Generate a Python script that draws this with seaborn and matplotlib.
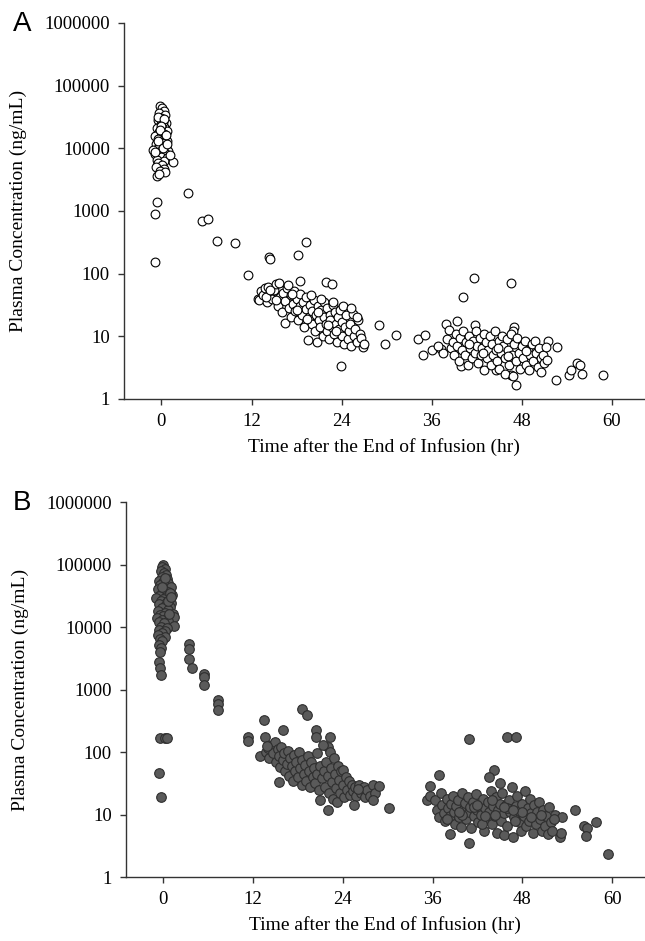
import numpy as np
import pandas as pd
import matplotlib
matplotlib.use("Agg")
import matplotlib.pyplot as plt
import seaborn as sns

# Panel A (open circles)
a_peak_t = [-0.2, 0.1, 0.3, -0.3, 0.5, 0.0, -0.5, 0.2, 0.6, -0.1, 0.4, -0.6, 0.1, 0.7, -0.3, 0.3,
            -0.8, 0.0, 0.5, -0.4, 0.2, 0.8, -0.2, 0.4, -0.7, 0.1, 0.6, -0.5, 0.3, -1.1, 0.0, 0.9,
            -0.3, 0.5, -0.8, 0.2, -0.1, 0.7, -0.6, 0.4, 1.5, -0.4, 0.1, -0.7, 0.3, -0.2, 0.5, -0.55,
            -0.3, 0.2, -0.4, 0.3, 0.0, -0.2, 0.6, -0.5, 0.2, 0.8, -0.9, 1.1]
a_peak_c = [47000, 44000, 40000, 36000, 34000, 31000, 28000, 27000, 25000, 24000, 22000, 21000, 20000, 19000, 18000, 17000,
            16000, 15500, 15000, 14000, 13500, 13000, 12500, 12000, 11500, 11000, 10500, 10000, 9800, 9500, 9200, 9000,
            8600, 8300, 8000, 7600, 7200, 7000, 6600, 6300, 6100, 5800, 5400, 5000, 4600, 4300, 4200, 3600,
            3900, 26000, 32000, 29000, 23000, 19500, 16500, 13000, 10000, 11500, 8800, 7800]

a_dist_t = [-0.55, -0.8, -0.8, 3.5, 5.4, 6.2, 7.4, 9.8, 11.5, 14.3, 14.5, 18.2, 19.3, 18.5, 21.9, 22.7]
a_dist_c = [1400, 880, 155, 1950, 700, 740, 330, 303, 95, 186, 170, 198, 323, 77, 73, 68]

a_mid_t = [12.8, 13.0, 13.2, 13.5, 13.8, 14.0, 14.2, 14.5, 14.7, 15.0, 15.2, 15.5, 15.6, 15.8, 16.0, 16.2,
           16.4, 16.5, 16.7, 17.0, 17.2, 17.3, 17.5, 17.7, 17.8, 18.0, 18.2, 18.4, 18.5, 18.7, 18.9, 19.0,
           19.2, 19.3, 19.5, 19.6, 19.8, 20.0, 20.1, 20.3, 20.5, 20.6, 20.7, 20.8, 21.0, 21.1, 21.3, 21.5,
           21.6, 21.7, 21.9, 22.0, 22.1, 22.3, 22.4, 22.5, 22.7, 22.8, 23.0, 23.1, 23.2, 23.4, 23.5, 23.6,
           23.8, 23.9, 24.0, 24.1, 24.3, 24.4, 24.6, 24.8, 25.0, 25.1, 25.3, 25.5, 25.6, 25.8, 26.0, 26.2,
           26.4, 26.6, 26.9, 27.0, 13.9, 14.4, 15.3, 16.8, 17.4, 19.9, 21.2, 22.9, 24.2, 25.2, 26.0,
           18.1, 19.4, 20.9, 22.2, 23.3]
a_mid_c = [40, 38, 52, 45, 58, 35, 62, 48, 40, 55, 68, 30, 70, 42, 24, 50,
           16.5, 36, 58, 28, 45, 20, 33, 52, 25, 40, 18, 30, 48, 22, 35, 14,
           27, 42, 8.7, 20, 32, 16, 25, 38, 12, 22, 8.2, 30, 18, 14, 26, 10,
           35, 20, 16, 12, 28, 9, 22, 18, 14, 32, 11, 24, 16, 8, 20, 13,
           26, 3.4, 10, 17, 7.5, 14, 22, 9, 12, 16, 7, 23, 10, 13, 8, 18,
           11, 9.5, 6.8, 7.5, 42, 55, 38, 65, 48, 45, 40, 35, 30, 28, 20,
           26, 19, 24, 15, 12]

a_late_t = [29.0, 29.8, 31.2, 34.2, 34.8, 35.1, 36.0, 37.2, 37.9, 39.3, 40.1, 41.6, 46.5, 41.8, 46.9, 46.8,
            47.2, 52.5, 51.5, 52.7, 54.3, 54.6, 55.3, 55.7, 56.0, 58.8, 46.5, 44.6, 39.9, 37.5, 36.8,
            38.0, 38.3, 38.5, 38.8, 39.0, 39.2, 39.4, 39.6, 39.8, 40.0, 40.2, 40.4, 40.6, 40.8, 41.0, 41.1,
            41.3, 41.5, 41.7, 41.9, 42.0, 42.2, 42.4, 42.5, 42.7, 42.9, 43.0, 43.2, 43.4, 43.5, 43.7, 43.9,
            44.0, 44.2, 44.4, 44.5, 44.7, 44.9, 45.0, 45.2, 45.3, 45.5, 45.7, 45.8, 46.0, 46.2, 46.3, 46.5,
            46.7, 46.8, 47.0, 47.2, 47.4, 47.6, 47.8, 48.0, 48.2, 48.4, 48.6, 48.8, 49.0, 49.1, 49.3, 49.5,
            49.7, 49.9, 50.1, 50.3, 50.5, 50.6, 50.8, 51.0, 51.2, 51.4, 40.9, 42.8, 44.8, 46.1, 48.5]
a_late_c = [15, 7.5, 10.5, 9, 5.0, 10.5, 6.0, 6.2, 15.5, 17.7, 42, 84, 70, 15, 14.2, 12,
            1.7, 2.0, 8.4, 6.7, 2.4, 2.9, 3.7, 3.5, 2.5, 2.4, 2.4, 2.9, 3.3, 5.5, 7,
            9, 12.5, 6.5, 8, 5, 11, 7, 4, 9.5, 6, 12, 5, 8, 3.5, 10, 6.5,
            4.5, 8.5, 5.5, 12, 7, 3.8, 9.5, 5, 6.5, 11, 2.9, 8, 4.5, 6, 10, 3.5,
            7.5, 5, 12, 6, 4, 8.5, 3, 5.5, 10, 7, 2.5, 4.5, 9, 6, 3.5, 11,
            5, 2.3, 7.5, 4, 9.5, 5.5, 3, 7, 4.5, 8.5, 3.5, 6, 2.9, 5, 7.5, 4,
            8.5, 5.5, 3.2, 6.5, 4.5, 2.7, 5, 3.8, 6.8, 4.2, 7.5, 5.5, 6.5, 4.8, 5.8]

# Panel B (filled circles)
b_peak_t = [0.0, -0.1, 0.2, -0.3, 0.1, 0.4, -0.2, 0.5, -0.5, 0.0, 0.7, -0.4, 0.3, 1.0, -0.7, 0.1,
            0.6, -0.2, 1.2, -0.6, 0.4, -0.9, 0.0, 0.8, -0.3, 0.5, 1.1, -0.5, 0.2, 0.9, -0.1, 0.6,
            -0.7, 0.3, 1.3, -0.4, 0.0, 1.5, -0.8, 0.4, -0.2, 0.7, -0.6, 0.1, 1.4, -0.3, 0.5, -0.5,
            0.2, -0.1, -0.7, 0.3, -0.4, -0.2, -0.5, -0.3, -0.4, -0.55, -0.4, -0.3, 0.9, 0.2, -0.1, 0.6,
            0.8, 1.0]
b_peak_c = [98000, 90000, 85000, 78000, 72000, 68000, 62000, 58000, 55000, 52000, 50000, 47000, 45000, 43000, 41000, 39000,
            37000, 35000, 33000, 31000, 30000, 29000, 28000, 27000, 26000, 25000, 24000, 23000, 22000, 21000, 20000, 19000,
            18000, 17000, 16000, 15500, 15000, 14500, 14000, 13500, 13000, 12500, 12000, 11500, 10500, 10000, 9500, 9000,
            8500, 8000, 7500, 7000, 6500, 6000, 5200, 4600, 4000, 2800, 2200, 1700, 35000, 60000, 44000, 26000,
            16000, 30000]

b_dist_t = [3.45, 3.45, 3.45, 3.8, 5.5, 5.5, 5.5, 7.3, 7.3, 7.3, -0.45, 0.3, 0.5, -0.5, -0.3,
            11.35, 11.35, 12.9, 13.45, 13.6, 16.0, 15.5, 18.6, 19.25, 20.4, 20.4, 22.3, 22.0, 22.0, 30.2]
b_dist_c = [5400, 4400, 3100, 2200, 1800, 1600, 1200, 690, 590, 470, 170, 170, 170, 46, 19,
            176, 150, 87, 325, 176, 225, 33, 480, 390, 225, 172, 172, 119, 11.8, 12.6]

b_mid_t = [13.8, 14.0, 14.2, 14.5, 14.7, 14.9, 15.1, 15.3, 15.5, 15.6, 15.8, 16.0, 16.2, 16.3, 16.5, 16.7,
           16.8, 17.0, 17.2, 17.3, 17.5, 17.6, 17.8, 18.0, 18.1, 18.3, 18.5, 18.6, 18.8, 19.0, 19.1, 19.3,
           19.5, 19.6, 19.8, 20.0, 20.1, 20.3, 20.5, 20.6, 20.8, 21.0, 21.0, 21.2, 21.3, 21.5, 21.6, 21.8,
           22.0, 22.1, 22.3, 22.4, 22.5, 22.7, 22.8, 23.0, 23.1, 23.2, 23.4, 23.5, 23.7, 23.8, 24.0, 24.1,
           24.2, 24.4, 24.6, 24.8, 25.0, 25.2, 25.4, 25.6, 25.8, 26.2, 26.5, 26.8, 27.0, 27.3, 27.6, 28.0,
           28.3, 13.9, 25.5, 28.8, 28.0, 26.0]
b_mid_c = [100, 115, 80, 130, 95, 145, 70, 110, 85, 58, 120, 75, 95, 50, 65, 105,
           42, 80, 60, 35, 90, 50, 70, 40, 100, 55, 30, 75, 45, 62, 35, 85,
           50, 28, 70, 40, 55, 32, 95, 45, 25, 17, 60, 38, 130, 50, 28, 70,
           42, 22, 100, 55, 33, 18, 80, 45, 27, 16, 60, 36, 22, 50, 30, 51,
           19, 40, 25, 35, 20.6, 30, 24, 28, 20, 30, 22, 28, 19, 25, 20, 30,
           22, 125, 14, 28.6, 17, 26]

b_late_t = [35.2, 35.6, 35.6, 36.8, 40.9, 45.9, 47.1, 44.2, 43.6, 45.0, 38.4, 40.9, 55.1, 56.2, 56.6, 57.8,
            56.5, 59.4, 53.1, 53.2, 52.4, 53.3,
            36.3, 36.6, 36.9, 37.1, 37.3, 37.5, 37.7, 37.9, 38.1, 38.3, 38.5, 38.7, 38.9, 39.0, 39.2, 39.4,
            39.6, 39.8, 39.9, 40.1, 40.3, 40.5, 40.7, 40.9, 41.0, 41.2, 41.4, 41.6, 41.8, 42.0, 42.1, 42.3,
            42.5, 42.7, 42.9, 43.0, 43.2, 43.4, 43.6, 43.8, 43.9, 44.1, 44.3, 44.5, 44.6, 44.8, 45.0, 45.1,
            45.3, 45.5, 45.6, 45.8, 46.0, 46.2, 46.4, 46.6, 46.7, 46.9, 47.1, 47.3, 47.5, 47.6, 47.8, 48.0,
            48.2, 48.4, 48.5, 48.7, 48.9, 49.0, 49.2, 49.4, 49.6, 49.8, 50.0, 50.2, 50.4, 50.6, 50.8, 51.0,
            51.2, 51.4, 51.6, 51.8, 52.0, 52.2, 42.6, 44.0, 46.0, 47.0, 48.0, 40.0, 41.5, 43.0, 45.5, 38.0,
            39.5, 41.9, 44.4, 46.8, 49.1, 50.5]
b_late_c = [17, 20, 29, 43, 162, 174, 174, 52, 40, 32, 4.9, 3.5, 11.8, 6.5, 6.0, 7.7,
            4.5, 2.3, 4.4, 5, 10, 9,
            17, 12, 9, 22, 14, 10.5, 8, 18, 12.5, 9.5, 15, 20, 11, 7, 13.5, 17,
            9, 6.4, 22, 12, 15.5, 8.5, 19, 11, 13, 6, 16, 9.5, 21, 12, 7.5, 14.5,
            10, 18, 5.5, 12.5, 8.5, 16, 11, 24, 7, 13.5, 9.5, 19, 5, 12, 15, 8,
            22, 10.5, 4.7, 14, 6.5, 17, 11, 28, 4.4, 9, 13.5, 20, 7.5, 11.5, 5.5, 15,
            9.5, 24, 6.5, 12.5, 8, 18, 10.5, 5, 14, 7, 11, 16, 8.5, 5.5, 12, 6.5,
            9.5, 4.8, 13, 7.5, 5.5, 8.5, 7, 17, 12.5, 8, 11, 10, 13, 9.5, 13, 8.5,
            11, 14, 10, 12, 9, 10]

a_df = pd.DataFrame({"time": a_peak_t + a_dist_t + a_mid_t + a_late_t,
                     "conc": a_peak_c + a_dist_c + a_mid_c + a_late_c})
b_df = pd.DataFrame({"time": b_peak_t + b_dist_t + b_mid_t + b_late_t,
                     "conc": b_peak_c + b_dist_c + b_mid_c + b_late_c})

decades = [1, 10, 100, 1000, 10000, 100000, 1000000]
decade_labels = ["1", "10", "100", "1000", "10000", "100000", "1000000"]
hours = [0, 12, 24, 36, 48, 60]

sns.set_style("ticks")
plt.rcParams["font.family"] = ["Liberation Serif", "DejaVu Serif"]
plt.rcParams["text.color"] = "black"
plt.rcParams["axes.labelcolor"] = "black"
plt.rcParams["xtick.color"] = "black"
plt.rcParams["ytick.color"] = "black"

fig = plt.figure(figsize=(6.45, 9.41), dpi=100)
ax_a = fig.add_axes([0.192, 0.576, 0.808, 0.3996])
ax_b = fig.add_axes([0.195, 0.068, 0.805, 0.3985])

sns.scatterplot(data=a_df, x="time", y="conc", ax=ax_a, s=40, color="white",
                edgecolor="black", linewidth=0.8, zorder=3)
sns.scatterplot(data=b_df, x="time", y="conc", ax=ax_b, s=48, color="#5a5a5a",
                edgecolor="#2e2e2e", linewidth=0.8, zorder=3)

for ax in [ax_a, ax_b]:
    ax.set_yscale("log")
    ax.set_ylim(1, 1000000)
    ax.set_xlim(-5, 64.4)
    ax.set_yticks(decades)
    ax.set_yticklabels(decade_labels)
    ax.yaxis.set_minor_locator(matplotlib.ticker.NullLocator())
    ax.set_xticks(hours)
    ax.set_xticklabels([str(h) for h in hours])
    ax.tick_params(axis="both", direction="out", length=4, width=1, color="#333333",
                   labelsize=13.5, pad=6)
    for side in ["top", "right"]:
        ax.spines[side].set_visible(False)
    for side in ["left", "bottom"]:
        ax.spines[side].set_color("#333333")
        ax.spines[side].set_linewidth(1.0)
    ax.set_xlabel("Time after the End of Infusion (hr)", fontsize=14, labelpad=6)
    ax.set_ylabel("Plasma Concentration (ng/mL)", fontsize=14)
    ax.yaxis.set_label_coords(-0.186, 0.5)

fig.text(0.034, 0.974, "A", fontsize=20, family="Liberation Sans", ha="center", va="center")
fig.text(0.034, 0.4655, "B", fontsize=20, family="Liberation Sans", ha="center", va="center")

fig.savefig("out.png", dpi=100)
